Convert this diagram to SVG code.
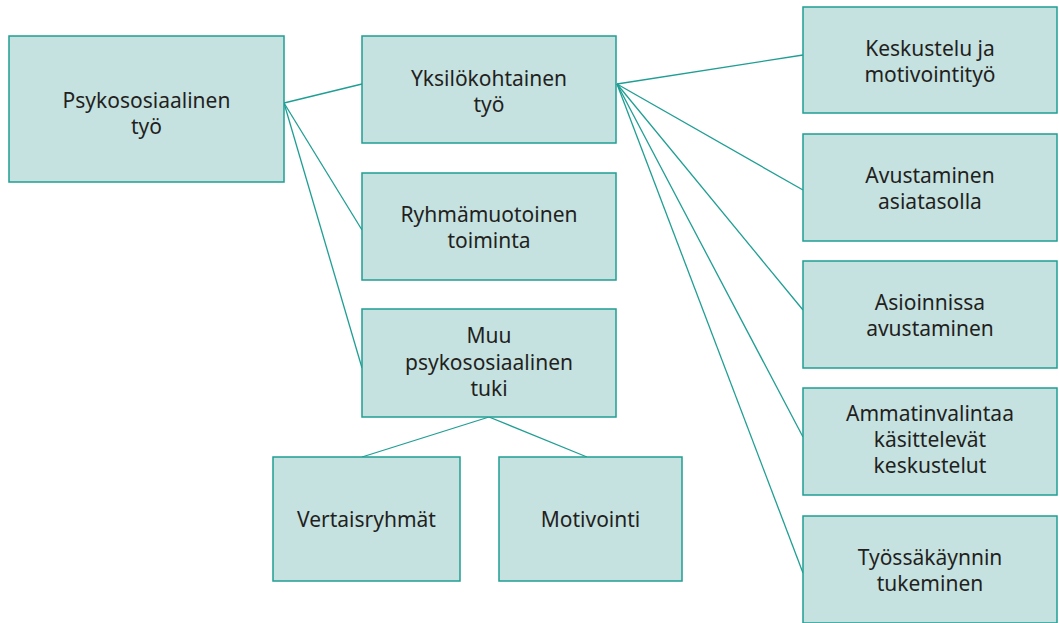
<svg xmlns="http://www.w3.org/2000/svg" width="1059" height="623" viewBox="0 0 1059 623">
<style>
.box{fill:#c5e2e1;stroke:#1f9e94;stroke-width:1.5}
.t{font-family:"Noto Sans","Open Sans",sans-serif;font-size:21px;fill:#231f20;text-anchor:middle}
.c{stroke:#1f9e94;stroke-width:1.3;fill:none}
</style>
<rect width="1059" height="623" fill="#ffffff"/>
<g id="connectors">
<line class="c" x1="284" y1="103" x2="362" y2="84"/>
<line class="c" x1="284" y1="103" x2="362" y2="230"/>
<line class="c" x1="284" y1="103" x2="362" y2="368"/>
<line class="c" x1="617" y1="84" x2="803" y2="55"/>
<line class="c" x1="617" y1="84" x2="803" y2="190"/>
<line class="c" x1="617" y1="84" x2="803" y2="310"/>
<line class="c" x1="617" y1="84" x2="803" y2="437"/>
<line class="c" x1="617" y1="84" x2="803" y2="573"/>
<line class="c" x1="489" y1="417" x2="362" y2="457"/>
<line class="c" x1="489" y1="417" x2="587" y2="457"/>
</g>
<g id="psykososiaalinen">
<rect class="box" x="9" y="36" width="275" height="146"/>
<text class="t" x="146.5" y="108">Psykososiaalinen</text>
<text class="t" x="146.5" y="134">työ</text>
</g>
<g id="yksilokohtainen">
<rect class="box" x="362" y="36" width="254" height="107"/>
<text class="t" x="489" y="86">Yksilökohtainen</text>
<text class="t" x="489" y="112">työ</text>
</g>
<g id="ryhmamuotoinen">
<rect class="box" x="362" y="173" width="254" height="107"/>
<text class="t" x="489" y="222">Ryhmämuotoinen</text>
<text class="t" x="489" y="248">toiminta</text>
</g>
<g id="muu">
<rect class="box" x="362" y="309" width="254" height="108"/>
<text class="t" x="489" y="343">Muu</text>
<text class="t" x="489" y="370">psykososiaalinen</text>
<text class="t" x="489" y="396">tuki</text>
</g>
<g id="vertaisryhmat">
<rect class="box" x="273" y="457" width="187" height="124"/>
<text class="t" x="366.5" y="527">Vertaisryhmät</text>
</g>
<g id="motivointi">
<rect class="box" x="499" y="457" width="183" height="124"/>
<text class="t" x="590.5" y="527">Motivointi</text>
</g>
<g id="keskustelu">
<rect class="box" x="803" y="7" width="254" height="106"/>
<text class="t" x="930" y="56">Keskustelu ja</text>
<text class="t" x="930" y="82">motivointityö</text>
</g>
<g id="avustaminen">
<rect class="box" x="803" y="134" width="254" height="107"/>
<text class="t" x="930" y="183">Avustaminen</text>
<text class="t" x="930" y="209">asiatasolla</text>
</g>
<g id="asioinnissa">
<rect class="box" x="803" y="261" width="254" height="107"/>
<text class="t" x="930" y="310">Asioinnissa</text>
<text class="t" x="930" y="336">avustaminen</text>
</g>
<g id="ammatinvalintaa">
<rect class="box" x="803" y="388" width="254" height="107"/>
<text class="t" x="930" y="421">Ammatinvalintaa</text>
<text class="t" x="930" y="447">käsittelevät</text>
<text class="t" x="930" y="473">keskustelut</text>
</g>
<g id="tyossakaynnin">
<rect class="box" x="803" y="516" width="254" height="107"/>
<text class="t" x="930" y="565">Työssäkäynnin</text>
<text class="t" x="930" y="591">tukeminen</text>
</g>
</svg>
